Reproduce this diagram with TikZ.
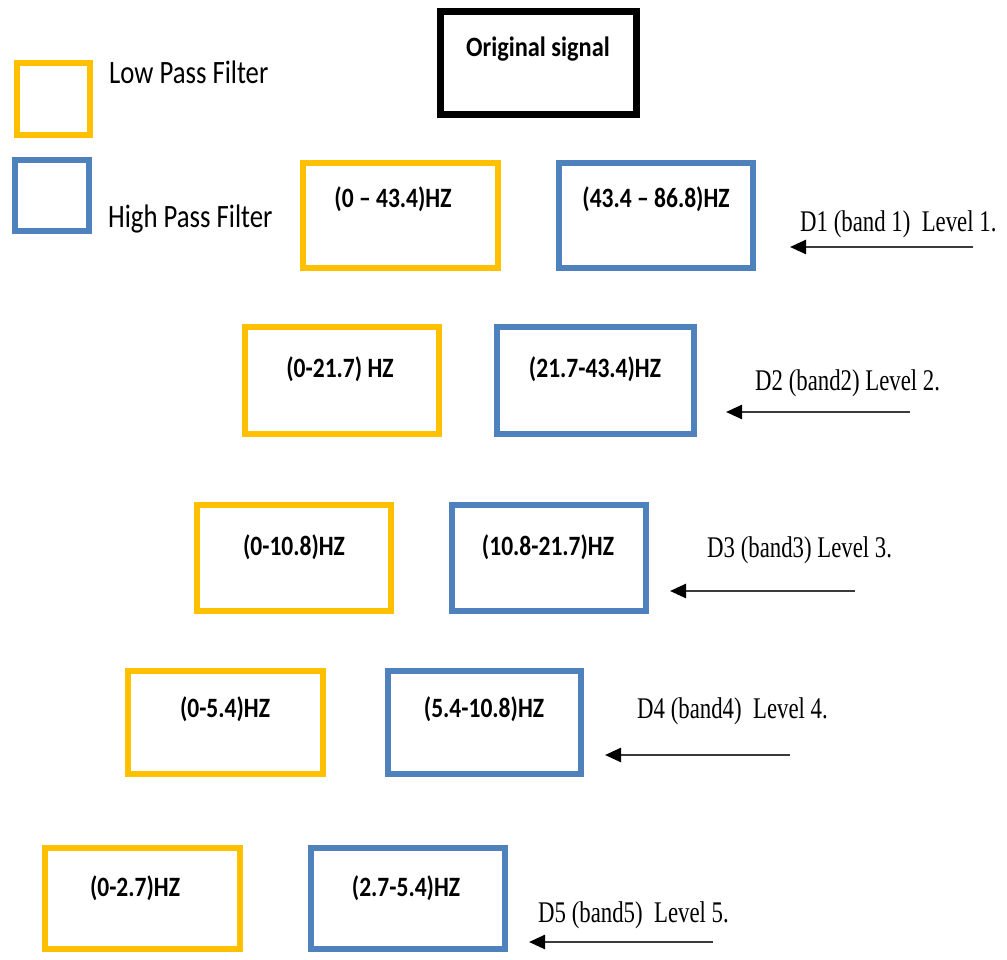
\documentclass[tikz,border=0pt]{standalone}
\usepackage{fontspec}
\usetikzlibrary{arrows.meta}
\newfontfamily\legendfont[FakeStretch=0.82]{Carlito}
\newfontfamily\boxfont[FakeStretch=0.84]{Carlito}
\newfontfamily\titlefont[FakeStretch=0.87]{Carlito}
\newfontfamily\bandfont[FakeStretch=0.76]{Liberation Serif}
\definecolor{lpfgold}{HTML}{FFC000}
\definecolor{hpfblue}{HTML}{4F81BD}
\definecolor{arrowgray}{HTML}{3A3A3A}
\begin{document}
\begin{tikzpicture}[x=1pt,y=-1pt,
  frame/.style={draw, line width=6pt, inner sep=0pt, fill=white},
  lpf/.style={frame, draw=lpfgold},
  hpf/.style={frame, draw=hpfblue},
  sig/.style={frame, draw=black, line width=7pt},
  bandtxt/.style={anchor=base, inner sep=0pt, font=\boxfont\bfseries\fontsize{28}{30}\selectfont},
  legtxt/.style={anchor=base west, inner sep=0pt, font=\legendfont\fontsize{32.6}{36}\selectfont},
  leveltxt/.style={anchor=base west, inner sep=0pt, font=\bandfont\fontsize{30}{34}\selectfont},
  levelarrow/.style={draw=arrowgray, line width=2.5pt, -{Triangle[length=16pt,width=14pt,color=black]}}
]
\useasboundingbox (0,0) rectangle (1007,960);
\fill[white] (0,0) rectangle (1007,960);

% input signal
\node[sig, minimum width=196pt, minimum height=103pt] (orig) at (538.5,63) {};
\node[anchor=base, inner sep=0pt, font=\titlefont\bfseries\fontsize{28}{30}\selectfont] (origtxt) at (538,57) {Original signal};

% legend
\node[lpf, minimum width=73pt, minimum height=72pt] (leglow) at (53.5,99) {};
\node[hpf, minimum width=74pt, minimum height=71pt] (leghigh) at (52,195.5) {};
\node[legtxt] (leglowtxt) at (109,84) {Low Pass Filter};
\node[legtxt] (leghightxt) at (108,228) {High Pass Filter};

% level 1
\node[lpf, minimum width=195pt, minimum height=105pt] (l1) at (400.5,215.5) {};
\node[hpf, minimum width=194pt, minimum height=105pt] (h1) at (656,215.5) {};
\node[bandtxt] (l1txt) at (393,208) {(0 – 43.4)HZ};
\node[bandtxt] (h1txt) at (656,208) {(43.4 – 86.8)HZ};

% level 2
\node[lpf, minimum width=194pt, minimum height=107pt] (l2) at (342,380.5) {};
\node[hpf, minimum width=197pt, minimum height=107pt] (h2) at (595.5,380.5) {};
\node[bandtxt] (l2txt) at (340,377) {(0-21.7) HZ};
\node[bandtxt] (h2txt) at (595,377) {(21.7-43.4)HZ};

% level 3
\node[lpf, minimum width=194pt, minimum height=106pt] (l3) at (294,558) {};
\node[hpf, minimum width=194pt, minimum height=106pt] (h3) at (549,558) {};
\node[bandtxt] (l3txt) at (294,555) {(0-10.8)HZ};
\node[bandtxt] (h3txt) at (548,555) {(10.8-21.7)HZ};

% level 4
\node[lpf, minimum width=195pt, minimum height=103pt] (l4) at (225.5,722.5) {};
\node[hpf, minimum width=193pt, minimum height=103pt] (h4) at (484.5,722.5) {};
\node[bandtxt] (l4txt) at (225,717) {(0-5.4)HZ};
\node[bandtxt] (h4txt) at (484,717) {(5.4-10.8)HZ};

% level 5
\node[lpf, minimum width=195pt, minimum height=101pt] (l5) at (142.5,898.5) {};
\node[hpf, minimum width=194pt, minimum height=101pt] (h5) at (408,898.5) {};
\node[bandtxt] (l5txt) at (135,896) {(0-2.7)HZ};
\node[bandtxt] (h5txt) at (406,896) {(2.7-5.4)HZ};

% detail band labels and pointers
\node[leveltxt] (d1) at (800,232) {D1 (band 1)\ \ Level 1.};
\node[leveltxt] (d2) at (755,390) {D2 (band2) Level 2.};
\node[leveltxt] (d3) at (707,557) {D3 (band3) Level 3.};
\node[leveltxt] (d4) at (637,718) {D4 (band4)\ \ Level 4.};
\node[leveltxt] (d5) at (538,922) {D5 (band5)\ \ Level 5.};

\coordinate (a1s) at (973,247); \coordinate (a1e) at (790,247);
\coordinate (a2s) at (910,412); \coordinate (a2e) at (726,412);
\coordinate (a3s) at (855,591); \coordinate (a3e) at (670,591);
\coordinate (a4s) at (790,755); \coordinate (a4e) at (605,755);
\coordinate (a5s) at (713,942); \coordinate (a5e) at (529,942);
\draw[levelarrow] (a1s) -- (a1e);
\draw[levelarrow] (a2s) -- (a2e);
\draw[levelarrow] (a3s) -- (a3e);
\draw[levelarrow] (a4s) -- (a4e);
\draw[levelarrow] (a5s) -- (a5e);
\end{tikzpicture}
\end{document}
